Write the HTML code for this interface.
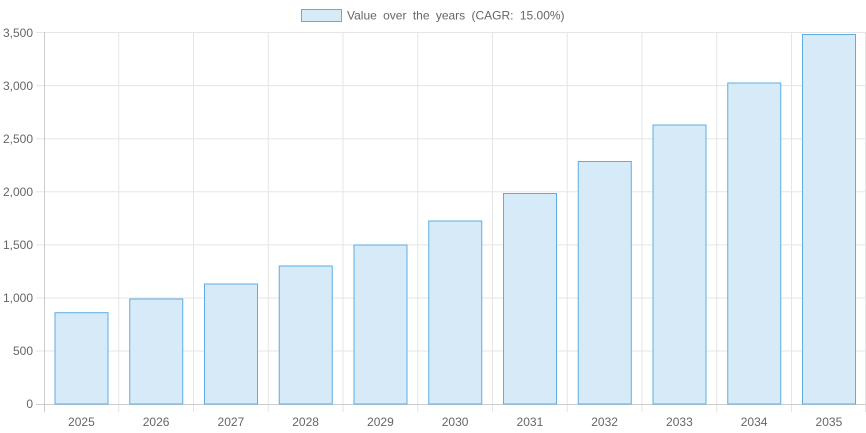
<!DOCTYPE html>
<html><head><style>html,body{margin:0;padding:0;background:#fff}svg{display:block}</style></head><body>
<svg width="866" height="433" xmlns="http://www.w3.org/2000/svg" font-family="Liberation Sans, sans-serif">
<g stroke="#e5e5e5" stroke-width="1">
<line x1="36" x2="866" y1="32.5" y2="32.5"/><line x1="36" x2="866" y1="85.6" y2="85.6"/><line x1="36" x2="866" y1="138.7" y2="138.7"/><line x1="36" x2="866" y1="191.8" y2="191.8"/><line x1="36" x2="866" y1="244.9" y2="244.9"/><line x1="36" x2="866" y1="298" y2="298"/><line x1="36" x2="866" y1="351" y2="351"/>
<line x1="118.75" x2="118.75" y1="32" y2="412"/><line x1="193.5" x2="193.5" y1="32" y2="412"/><line x1="268.25" x2="268.25" y1="32" y2="412"/><line x1="343" x2="343" y1="32" y2="412"/><line x1="417.75" x2="417.75" y1="32" y2="412"/><line x1="492.5" x2="492.5" y1="32" y2="412"/><line x1="567.25" x2="567.25" y1="32" y2="412"/><line x1="642" x2="642" y1="32" y2="412"/><line x1="716.75" x2="716.75" y1="32" y2="412"/><line x1="791.5" x2="791.5" y1="32" y2="412"/><line x1="865.5" x2="865.5" y1="32" y2="412"/>
</g>
<line x1="36" x2="866" y1="404.5" y2="404.5" stroke="#ccc"/>
<line x1="44.5" x2="44.5" y1="32" y2="412" stroke="#ccc"/>
<g fill="#d6eaf8" stroke="#5dade2" stroke-width="1">
<rect x="55" y="312.7" width="53" height="91.3"/>
<rect x="129.75" y="299" width="53" height="105"/>
<rect x="204.5" y="284" width="53" height="120"/>
<rect x="279.25" y="266" width="53" height="138"/>
<rect x="354" y="245" width="53" height="159"/>
<rect x="428.75" y="221" width="53" height="183"/>
<rect x="503.5" y="193.5" width="53" height="210.5"/>
<rect x="578.25" y="161.5" width="53" height="242.5"/>
<rect x="653" y="125" width="53" height="279"/>
<rect x="727.75" y="83" width="53" height="321"/>
<rect x="802.5" y="34.5" width="53" height="369.5"/>
</g>
<g fill="#666" font-size="12" text-anchor="end">
<text x="33" y="37">3,500</text><text x="33" y="90">3,000</text><text x="33" y="143">2,500</text><text x="33" y="196">2,000</text><text x="33" y="249">1,500</text><text x="33" y="302">1,000</text><text x="33" y="355">500</text><text x="33" y="408">0</text>
</g>
<g fill="#666" font-size="12" text-anchor="middle">
<text x="81.4" y="426">2025</text><text x="156.1" y="426">2026</text><text x="230.9" y="426">2027</text><text x="305.6" y="426">2028</text><text x="380.4" y="426">2029</text><text x="455.1" y="426">2030</text><text x="529.9" y="426">2031</text><text x="604.6" y="426">2032</text><text x="679.4" y="426">2033</text><text x="754.1" y="426">2034</text><text x="828.9" y="426">2035</text>
</g>
<rect x="301.5" y="9.5" width="40" height="12" fill="#d6eaf8" stroke="#5dade2"/>
<text x="347" y="19.5" fill="#666" font-size="12" word-spacing="3">Value over the years (CAGR: 15.00%)</text>
</svg>
</body></html>
